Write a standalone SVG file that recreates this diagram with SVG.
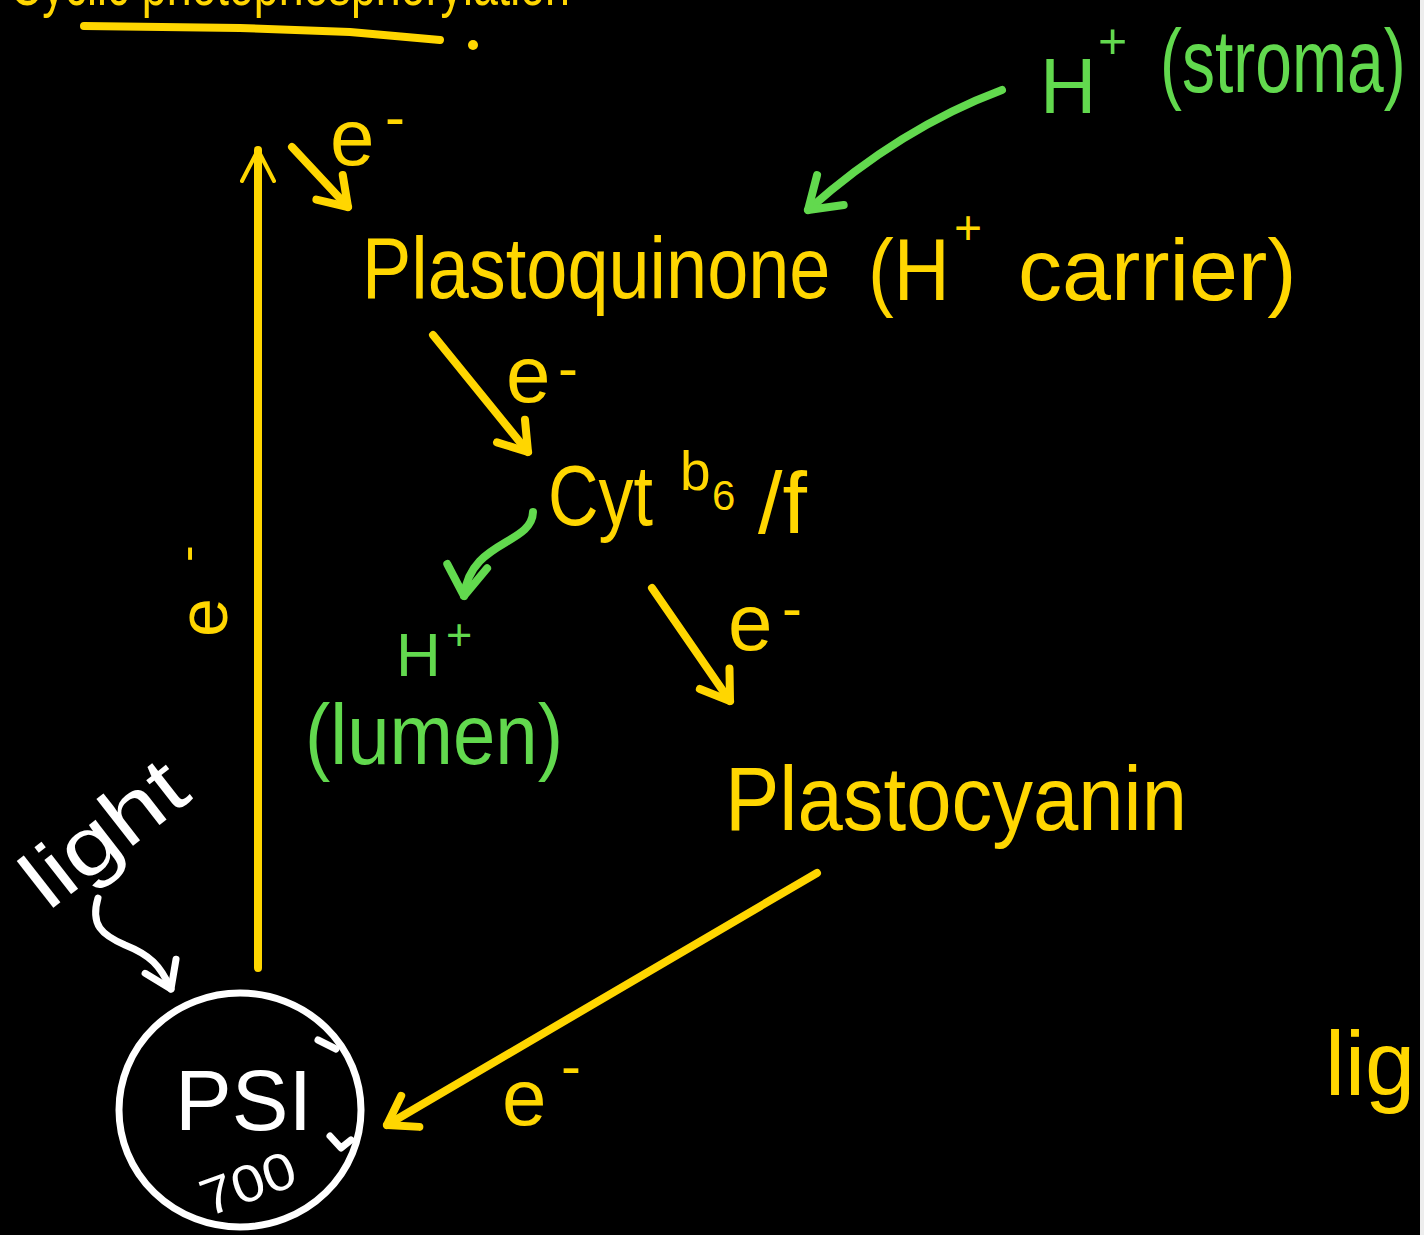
<svg xmlns="http://www.w3.org/2000/svg" width="1424" height="1235" viewBox="0 0 1424 1235">
<style>
text{font-family:"Liberation Sans","DejaVu Sans",sans-serif}
.y{fill:#FFD600}
.g{fill:#62D94E}
.w{fill:#FFFFFF}
.ly{fill:none;stroke:#FFD600;stroke-width:8;stroke-linecap:round;stroke-linejoin:round}
.lg{fill:none;stroke:#62D94E;stroke-width:8;stroke-linecap:round;stroke-linejoin:round}
.lw{fill:none;stroke:#FFFFFF;stroke-width:7;stroke-linecap:round;stroke-linejoin:round}
</style>
<defs>
<marker id="hy" markerUnits="userSpaceOnUse" markerWidth="60" markerHeight="60" viewBox="-40 -30 50 60" refX="0" refY="0" orient="auto" overflow="visible">
<path d="M-27,-18 L0,0 L-27,18" fill="none" stroke="#FFD600" stroke-width="8" stroke-linecap="round" stroke-linejoin="round"/>
</marker>
<marker id="hyt" markerUnits="userSpaceOnUse" markerWidth="60" markerHeight="60" viewBox="-40 -30 50 60" refX="0" refY="0" orient="auto" overflow="visible">
<path d="M-31,-16 L0,0 L-31,16" fill="none" stroke="#FFD600" stroke-width="4" stroke-linecap="round" stroke-linejoin="round"/>
</marker>
<marker id="hg" markerUnits="userSpaceOnUse" markerWidth="60" markerHeight="60" viewBox="-40 -30 50 60" refX="0" refY="0" orient="auto" overflow="visible">
<path d="M-30,-20 L0,0 L-30,20" fill="none" stroke="#62D94E" stroke-width="8" stroke-linecap="round" stroke-linejoin="round"/>
</marker>
<marker id="hw" markerUnits="userSpaceOnUse" markerWidth="60" markerHeight="60" viewBox="-40 -30 50 60" refX="0" refY="0" orient="auto" overflow="visible">
<path d="M-25,-17 L0,0 L-25,17" fill="none" stroke="#FFFFFF" stroke-width="7" stroke-linecap="round" stroke-linejoin="round"/>
</marker>
</defs>
<rect x="0" y="0" width="1424" height="1235" fill="#000000"/>

<g id="title">
<text class="y" x="10" y="5" font-size="62" textLength="560" lengthAdjust="spacingAndGlyphs">Cyclic photophosphorylation</text>
<path class="ly" d="M84,26 L240,28 L350,32 L440,40"/>
<circle class="y" cx="473" cy="45" r="5"/>
</g>

<g id="connectors">
<line class="ly" x1="258" y1="968" x2="258" y2="150" stroke-width="4" marker-end="url(#hyt)"/>
<line class="ly" x1="292" y1="147" x2="348" y2="207" marker-end="url(#hy)"/>
<line class="ly" x1="433" y1="335" x2="528" y2="452" marker-end="url(#hy)"/>
<line class="ly" x1="652" y1="588" x2="730" y2="701" marker-end="url(#hy)"/>
<line class="ly" x1="817" y1="873" x2="387" y2="1125" marker-end="url(#hy)"/>
<path class="lg" d="M1002,90 Q900,128 808,210" marker-end="url(#hg)"/>
<path class="lg" d="M533,512 C532,545 470,540 464,596" marker-end="url(#hg)"/>
<path class="lw" d="M98,898 C90,925 102,935 125,945 C150,955 160,965 171,989" marker-end="url(#hw)"/>
</g>

<g id="e-labels">
<text class="y" font-size="80"><tspan x="330" y="165">e</tspan><tspan x="385" y="137" font-size="60">-</tspan></text>
<text class="y" font-size="80"><tspan x="506" y="402">e</tspan><tspan x="558" y="388" font-size="60">-</tspan></text>
<text class="y" font-size="80"><tspan x="728" y="650">e</tspan><tspan x="782" y="628" font-size="60">-</tspan></text>
<text class="y" font-size="80"><tspan x="502" y="1125">e</tspan><tspan x="561" y="1086" font-size="60">-</tspan></text>
<text class="y" font-size="70" transform="translate(227,637) rotate(-90)"><tspan x="0" y="0">e</tspan><tspan x="75" y="-24" font-size="50">-</tspan></text>
</g>

<g id="plastoquinone">
<text class="y" x="0" y="0" font-size="88" transform="translate(362,298) scale(0.84,1)">Plastoquinone</text>
<text class="y" x="0" y="0" font-size="88" transform="translate(868,300) scale(0.88,1)">(H</text>
<text class="y" x="954" y="244" font-size="48">+</text>
<text class="y" x="1018" y="300" font-size="88">carrier)</text>
</g>

<g id="h-stroma">
<text class="g" font-size="78"><tspan x="1040" y="113">H</tspan><tspan x="1098" y="58" font-size="50">+</tspan></text>
<text class="g" x="0" y="0" font-size="88" transform="translate(1160,92) scale(0.75,1)">(stroma)</text>
</g>

<g id="cytb6f">
<text class="y" font-size="85"><tspan x="548" y="525" textLength="105" lengthAdjust="spacingAndGlyphs">Cyt</tspan><tspan x="680" y="490" font-size="55">b</tspan><tspan x="712" y="510" font-size="42">6</tspan><tspan x="758" y="533" font-size="88">/f</tspan></text>
</g>

<g id="h-lumen">
<text class="g" font-size="62"><tspan x="396" y="676">H</tspan><tspan x="446" y="650" font-size="45">+</tspan></text>
<text class="g" x="305" y="764" font-size="85" textLength="258" lengthAdjust="spacingAndGlyphs">(lumen)</text>
</g>

<g id="plastocyanin">
<text class="y" x="725" y="830" font-size="90" textLength="462" lengthAdjust="spacingAndGlyphs">Plastocyanin</text>
</g>

<g id="psi">
<ellipse cx="240" cy="1110" rx="121" ry="117" fill="none" stroke="#FFFFFF" stroke-width="7"/>
<path class="lw" d="M318,1040 L336,1049"/>
<path class="lw" d="M330,1136 L341,1148 L351,1140"/>
<text class="w" x="175" y="1130" font-size="85" textLength="137" lengthAdjust="spacingAndGlyphs">PSI</text>
<text class="w" font-size="52" transform="translate(208,1217) rotate(-20)" textLength="98" lengthAdjust="spacingAndGlyphs">700</text>
</g>

<g id="light-left">
<text class="w" font-size="82" transform="translate(48,912) rotate(-38)" textLength="185" lengthAdjust="spacingAndGlyphs">light</text>
</g>

<g id="light-right">
<text class="y" x="1325" y="1095" font-size="90">light</text>
</g>
<rect x="1420" y="0" width="4" height="1235" fill="#EDEDED"/>
</svg>
